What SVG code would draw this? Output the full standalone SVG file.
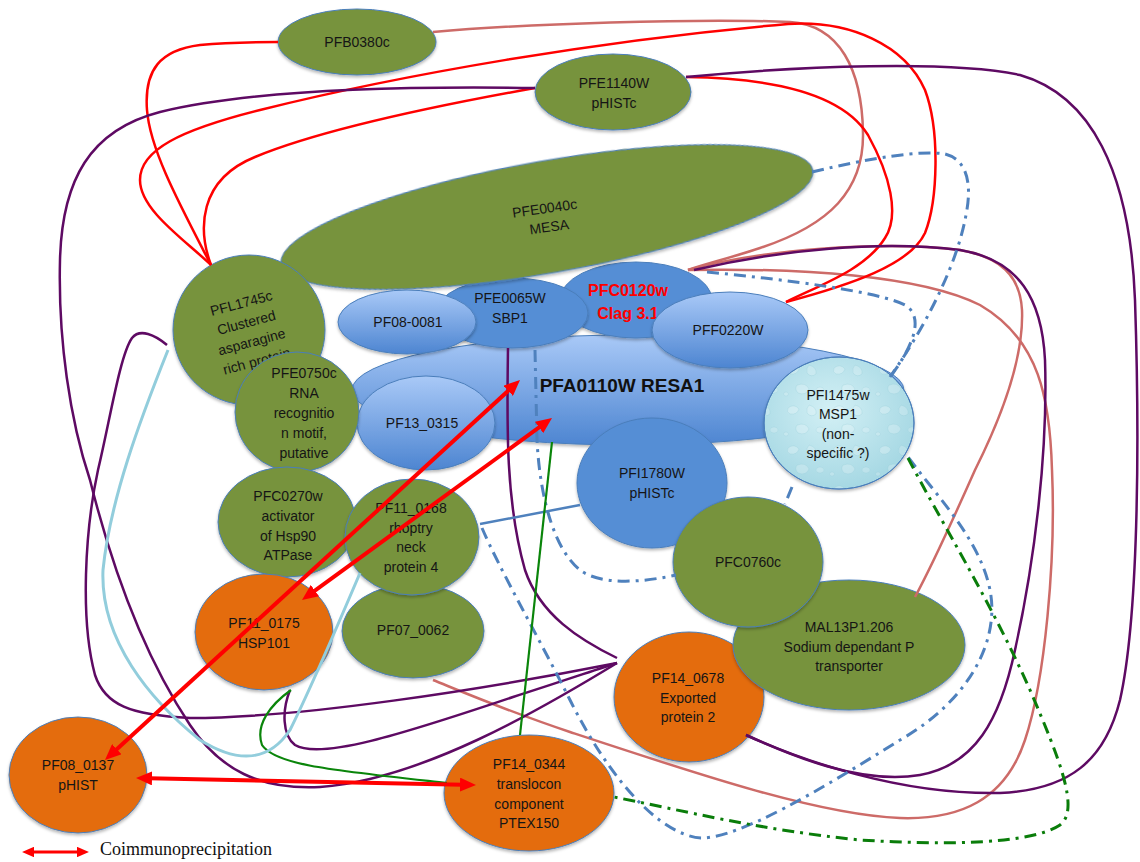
<svg xmlns="http://www.w3.org/2000/svg" width="1140" height="862" viewBox="0 0 1140 862">
<defs>
<style>
.n{stroke:#4a7ebb;stroke-width:1;filter:url(#sh)}
.green{fill:#77933c}
.orange{fill:#e46c0a}
.blue{fill:#558ed5}
.lblue{fill:url(#gBlue)}
.t{font-family:"Liberation Sans",Arial,sans-serif;font-size:14px;fill:#151515;text-anchor:middle}
.c{fill:none;stroke-width:2.5}
.red{stroke:#ff0000}
.rose{stroke:#cd6b68}
.pur{stroke:#5e0a63}
.bdd{stroke:#4f81bd;stroke-width:3;stroke-dasharray:12 6 3 6}
.gdd{stroke:#0a7d0a;stroke-width:3;stroke-dasharray:12 6 3 6}
.grn{stroke:#0a850a;stroke-width:2.2}
.lb{stroke:#92cddc;stroke-width:3}
.arr{fill:none;stroke:#ff0000;stroke-width:4;marker-start:url(#ah);marker-end:url(#ah)}
</style>
<filter id="sh" x="-10%" y="-10%" width="120%" height="130%">
<feDropShadow dx="0" dy="2" stdDeviation="1.5" flood-color="#000" flood-opacity="0.28"/>
</filter>
<linearGradient id="gBlue" x1="0" y1="0" x2="0" y2="1">
<stop offset="0" stop-color="#a9c9f7"/>
<stop offset="1" stop-color="#4d85d1"/>
</linearGradient>
<radialGradient id="gMsp" cx="45%" cy="40%" r="65%">
<stop offset="0" stop-color="#d3f0f5"/>
<stop offset="1" stop-color="#a2d6e2"/>
</radialGradient>
<pattern id="drops" patternUnits="userSpaceOnUse" width="46" height="40">
<path d="M6,8 q6,-5 11,1 q-2,6 -9,5 q-4,-2 -2,-6z" fill="#ffffff" fill-opacity="0.25" stroke="#86c4d2" stroke-opacity="0.35" stroke-width="0.7"/>
<path d="M27,5 q8,2 7,9 q-5,4 -9,-1 q-1,-5 2,-8z" fill="#ffffff" fill-opacity="0.2" stroke="#86c4d2" stroke-opacity="0.35" stroke-width="0.7"/>
<path d="M15,25 q9,-3 12,4 q-3,7 -11,4 q-4,-4 -1,-8z" fill="#ffffff" fill-opacity="0.22" stroke="#86c4d2" stroke-opacity="0.35" stroke-width="0.7"/>
<ellipse cx="38" cy="30" rx="4" ry="3" fill="#ffffff" fill-opacity="0.2" stroke="#86c4d2" stroke-opacity="0.3" stroke-width="0.6"/>
<ellipse cx="4" cy="34" rx="2.5" ry="2" fill="#ffffff" fill-opacity="0.2" stroke="#86c4d2" stroke-opacity="0.3" stroke-width="0.6"/>
</pattern>
<marker id="ah" markerUnits="strokeWidth" markerWidth="4" markerHeight="3.5" refX="0.75" refY="1.75" orient="auto-start-reverse">
<path d="M0,0 L4,1.75 L0,3.5 z" fill="#ff0000"/>
</marker>
</defs>
<rect width="1140" height="862" fill="#ffffff"/>

<g id="nodes">
<g id="n-PFB0380c"><ellipse class="n green" cx="357" cy="42" rx="79" ry="33"/><text class="t" x="357" y="47">PFB0380c</text></g>
<g id="n-PFE1140W"><ellipse class="n green" cx="613" cy="92" rx="78" ry="38"/><text class="t" x="614" y="88">PFE1140W</text><text class="t" x="614" y="108">pHISTc</text></g>
<g id="n-PFA0110W"><ellipse class="n lblue" cx="628" cy="390" rx="276" ry="55"/><text x="622" y="392" style="font-family:'Liberation Sans',Arial,sans-serif;font-size:19px;font-weight:bold;fill:#111;text-anchor:middle">PFA0110W RESA1</text></g>
<g id="n-PFC0120w"><ellipse class="n blue" cx="636" cy="300" rx="76" ry="38"/><text x="628" y="296" style="font-family:'Liberation Sans',Arial,sans-serif;font-size:16px;font-weight:bold;fill:#ff0000;text-anchor:middle">PFC0120w</text><text x="628" y="319" style="font-family:'Liberation Sans',Arial,sans-serif;font-size:16px;font-weight:bold;fill:#ff0000;text-anchor:middle">Clag 3.1</text></g>
<g id="n-PFE0065W"><ellipse class="n blue" cx="512" cy="313" rx="76" ry="35"/><text class="t" x="510" y="303">PFE0065W</text><text class="t" x="510" y="323">SBP1</text></g>
<g id="n-PFE0040c"><ellipse class="n green" cx="547" cy="217" rx="270" ry="56" transform="rotate(-10 547 217)"/><g transform="rotate(-8 547 218)"><text class="t" x="546" y="213">PFE0040c</text><text class="t" x="548" y="232">MESA</text></g></g>
<g id="n-PF08-0081"><ellipse class="n lblue" cx="407" cy="322" rx="69" ry="32"/><text class="t" x="408" y="327">PF08-0081</text></g>
<g id="n-PFF0220W"><ellipse class="n lblue" cx="730" cy="330" rx="78" ry="38"/><text class="t" x="728" y="335">PFF0220W</text></g>
<g id="n-PF13_0315"><ellipse class="n lblue" cx="426" cy="423" rx="69" ry="47"/><text class="t" x="422" y="428">PF13_0315</text></g>
<g id="n-PFI1780W"><ellipse class="n blue" cx="652" cy="483" rx="75" ry="65"/><text class="t" x="652" y="478">PFI1780W</text><text class="t" x="652" y="498">pHISTc</text></g>
<g id="n-PFI1475w"><ellipse class="n" cx="839" cy="423" rx="75" ry="66" fill="url(#gMsp)"/><ellipse cx="839" cy="423" rx="75" ry="66" fill="url(#drops)" stroke="#4a7ebb" stroke-width="1"/><text class="t" x="838" y="400">PFI1475w</text><text class="t" x="838" y="419">MSP1</text><text class="t" x="838" y="439">(non-</text><text class="t" x="838" y="458">specific ?)</text></g>
<g id="n-PFL1745c"><ellipse class="n green" cx="249" cy="330" rx="76" ry="75"/><g transform="rotate(-15 249 332)"><text class="t" x="249" y="307">PFL1745c</text><text class="t" x="249" y="327">Clustered</text><text class="t" x="249" y="347">asparagine</text><text class="t" x="249" y="367">rich protein</text></g></g>
<g id="n-PFE0750c"><ellipse class="n green" cx="297" cy="412" rx="62" ry="60"/><text class="t" x="304" y="378">PFE0750c</text><text class="t" x="304" y="398">RNA</text><text class="t" x="304" y="418">recognitio</text><text class="t" x="304" y="438">n motif,</text><text class="t" x="304" y="458">putative</text></g>
<g id="n-PFC0270w"><ellipse class="n green" cx="287" cy="522" rx="69" ry="55"/><text class="t" x="288" y="501">PFC0270w</text><text class="t" x="288" y="521">activator</text><text class="t" x="288" y="541">of Hsp90</text><text class="t" x="288" y="560">ATPase</text></g>
<g id="n-PF07_0062"><ellipse class="n green" cx="413" cy="631" rx="71" ry="47"/><text class="t" x="413" y="635">PF07_0062</text></g>
<g id="n-PF11_0168"><ellipse class="n green" cx="412" cy="537" rx="67" ry="58"/><text class="t" x="411" y="513">PF11_0168</text><text class="t" x="411" y="533">rhoptry</text><text class="t" x="411" y="552">neck</text><text class="t" x="411" y="572">protein 4</text></g>
<g id="n-PF11_0175"><ellipse class="n orange" cx="264" cy="632" rx="69" ry="58"/><text class="t" x="264" y="628">PF11_0175</text><text class="t" x="264" y="648">HSP101</text></g>
<g id="n-PF14_0678"><ellipse class="n orange" cx="689" cy="697" rx="75" ry="65"/><text class="t" x="688" y="683">PF14_0678</text><text class="t" x="688" y="703">Exported</text><text class="t" x="688" y="722">protein 2</text></g>
<g id="n-MAL13P1.206"><ellipse class="n green" cx="849" cy="645" rx="116" ry="65"/><text class="t" x="849" y="632">MAL13P1.206</text><text class="t" x="849" y="652">Sodium dependant P</text><text class="t" x="849" y="671">transporter</text></g>
<g id="n-PFC0760c"><ellipse class="n green" cx="748" cy="562" rx="75" ry="65"/><text class="t" x="748" y="567">PFC0760c</text></g>
<g id="n-PF08_0137"><ellipse class="n orange" cx="78" cy="775" rx="69" ry="58"/><text class="t" x="78" y="770">PF08_0137</text><text class="t" x="78" y="790">pHIST</text></g>
<g id="n-PF14_0344"><ellipse class="n orange" cx="529" cy="793" rx="85" ry="58"/><text class="t" x="529" y="769">PF14_0344</text><text class="t" x="529" y="789">translocon</text><text class="t" x="529" y="809">component</text><text class="t" x="529" y="828">PTEX150</text></g>
</g>

<g id="connectors">
<path class="c rose" d="M433,32 C520,24 700,18 790,22 C840,25 862,70 863,133 C864,190 830,225 760,248 C730,258 705,264 688,270"/>
<path class="c rose" d="M688,270 C800,268 920,275 980,305 C1040,340 1050,400 1052,470 C1056,560 1045,680 1025,740 C1005,800 960,820 900,818 C820,815 700,775 570,732 C510,712 470,695 433,680"/>
<path class="c rose" d="M688,270 C760,250 880,240 960,250 C1000,257 1020,275 1022,310 C1024,360 1000,420 975,470 C955,515 935,560 915,597"/>
<path class="c red" d="M211,265 C180,205 150,150 147,110 C144,70 160,50 200,45 C230,42 255,42 278,42"/>
<path class="c red" d="M211,265 C185,240 140,210 140,180 C140,150 180,130 260,110 C400,75 600,40 788,24 C850,20 905,45 925,90 C940,130 938,200 925,233 C910,265 850,285 786,302"/>
<path class="c red" d="M211,265 C198,230 198,180 255,157 C320,130 440,105 535,88"/>
<path class="c red" d="M686,77 C760,78 840,90 868,135 C890,175 900,215 885,238 C865,270 820,285 786,302"/>
<path class="c pur" d="M535,88 C400,86 250,90 160,112 C90,130 62,180 60,260 C58,340 70,420 90,480 C110,560 140,650 190,725 C220,770 260,790 320,787 C420,780 540,710 617,663"/>
<path class="c pur" d="M167,345 C155,335 140,328 132,338 C120,355 110,420 98,470 C85,530 80,620 95,675 C105,705 130,715 190,718 C300,718 480,690 617,663"/>
<path class="c pur" d="M290,690 C282,710 282,735 295,745 C320,760 400,735 513,697 C560,682 595,670 617,663"/>
<path class="c pur" d="M508,348 C507,420 505,500 525,570 C540,615 580,640 617,658"/>
<path class="c pur" d="M686,77 C800,66 950,60 1020,75 C1090,95 1130,170 1135,300 C1140,450 1138,620 1120,700 C1105,760 1070,790 1000,793 C900,795 800,760 746,735"/>
<path class="c pur" d="M694,270 C780,250 880,240 960,250 C1020,260 1042,300 1045,360 C1048,450 1035,560 1015,650 C1000,720 975,765 920,775 C860,785 790,755 746,735"/>
<path class="c bdd" d="M812,172 C870,158 920,150 945,154 C968,160 972,185 966,215 C958,260 930,320 890,377"/>
<path class="c bdd" d="M707,272 C790,280 880,292 905,305 C922,315 918,340 890,377"/>
<path class="c bdd" d="M535,350 L537,440 C540,500 555,550 580,570 C600,585 640,583 676,575"/>
<path class="c bdd" d="M792,487 L785,504"/>
<path class="c bdd" d="M482,528 C500,570 540,640 570,700 C610,780 660,835 701,838 C740,838 820,790 900,740 C970,700 1000,640 990,590 C980,540 940,500 908,457"/>
<path class="c" stroke="#4f81bd" d="M480,524 L580,505"/>
<path class="c grn" d="M552,442 L520,735"/>
<path class="c grn" d="M291,690 C270,705 255,725 262,745 C275,765 330,770 447,783"/>
<path class="c lb" d="M168,350 C140,420 110,500 103,570 C100,640 150,700 200,740 C240,765 270,760 290,730 C310,690 340,620 360,573"/>
<path class="c gdd" d="M908,458 C940,520 990,600 1030,690 C1060,760 1080,810 1060,825 C1030,845 940,845 860,840 C760,830 680,810 614,797"/>
<path class="arr" d="M114.6,751.2 L510.4,388.8"/>
<path class="arr" d="M312.5,592.3 L541.5,425.7"/>
<path class="arr" d="M149,778.3 L463,784.7"/>
<path class="arr" style="stroke-width:3" d="M31.8,852 L79.2,852"/>
</g>
<text x="100" y="855" style="font-family:'Liberation Serif','Times New Roman',serif;font-size:18px;fill:#111">Coimmunoprecipitation</text>
</svg>
